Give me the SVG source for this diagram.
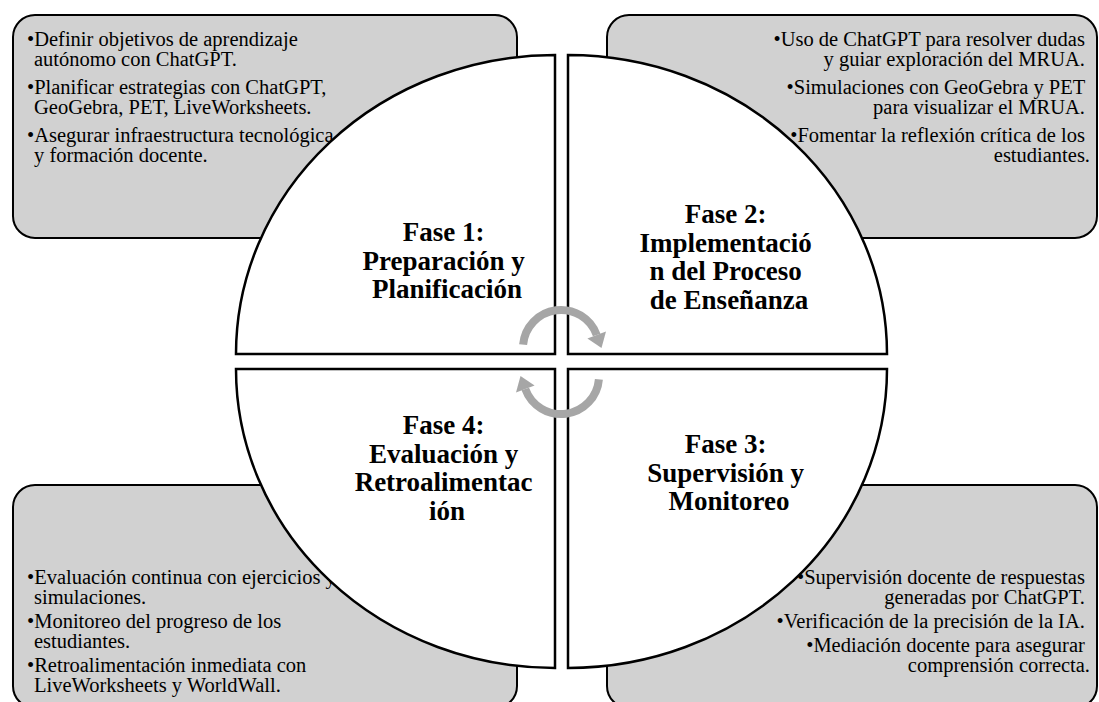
<svg xmlns="http://www.w3.org/2000/svg" width="1099" height="702" viewBox="0 0 1099 702">
  <style>
    .box { fill: #d1d1d1; stroke: #000; stroke-width: 2; }
    .quad { fill: #fff; stroke: #000; stroke-width: 2.5; stroke-linejoin: miter; }
    .body { font-family: "Liberation Serif", "Times New Roman", serif; font-size: 20.5px; fill: #000; }
    .end { text-anchor: end; }
    .phase { font-family: "Liberation Serif", "Times New Roman", serif; font-size: 27px; font-weight: bold; fill: #000; text-anchor: middle; }
    .arc { fill: none; stroke: #a6a6a6; stroke-width: 8; }
    .head { fill: #a6a6a6; }
  </style>
  <rect width="1099" height="702" fill="#fff"/>

  <g id="box1">
    <rect class="box" x="13" y="15" width="504" height="223" rx="22"/>
    <text class="body">
      <tspan x="27" y="46">•Definir objetivos de aprendizaje</tspan>
      <tspan x="34" y="66">autónomo con ChatGPT.</tspan>
      <tspan x="27" y="94">•Planificar estrategias con ChatGPT,</tspan>
      <tspan x="34" y="114">GeoGebra, PET, LiveWorksheets.</tspan>
      <tspan x="27" y="142">•Asegurar infraestructura tecnológica</tspan>
      <tspan x="34" y="162">y formación docente.</tspan>
    </text>
  </g>

  <g id="box2">
    <rect class="box" x="607" y="15" width="490" height="223" rx="22"/>
    <text class="body end">
      <tspan x="1090" y="46">•Uso de ChatGPT para resolver dudas</tspan>
      <tspan x="1090" y="66">y guiar exploración del MRUA.</tspan>
      <tspan x="1090" y="94">•Simulaciones con GeoGebra y PET</tspan>
      <tspan x="1090" y="114">para visualizar el MRUA.</tspan>
      <tspan x="1090" y="142">•Fomentar la reflexión crítica de los</tspan>
      <tspan x="1090" y="162">estudiantes.</tspan>
    </text>
  </g>

  <g id="box4">
    <rect class="box" x="13" y="485" width="504" height="223" rx="22"/>
    <text class="body">
      <tspan x="27" y="584">•Evaluación continua con ejercicios y</tspan>
      <tspan x="34" y="604">simulaciones.</tspan>
      <tspan x="27" y="628">•Monitoreo del progreso de los</tspan>
      <tspan x="34" y="648">estudiantes.</tspan>
      <tspan x="27" y="672">•Retroalimentación inmediata con</tspan>
      <tspan x="34" y="692">LiveWorksheets y WorldWall.</tspan>
    </text>
  </g>

  <g id="box3">
    <rect class="box" x="607" y="485" width="490" height="223" rx="22"/>
    <text class="body end">
      <tspan x="1090" y="584">•Supervisión docente de respuestas</tspan>
      <tspan x="1090" y="604">generadas por ChatGPT.</tspan>
      <tspan x="1090" y="628">•Verificación de la precisión de la IA.</tspan>
      <tspan x="1090" y="652">•Mediación docente para asegurar</tspan>
      <tspan x="1090" y="672">comprensión correcta.</tspan>
    </text>
  </g>

  <g id="fase1">
    <path class="quad" d="M555,354 L236,354 A319,299 0 0 1 555,55 Z"/>
    <text class="phase">
      <tspan x="447" y="241">Fase 1:</tspan>
      <tspan x="447" y="269.5">Preparación y</tspan>
      <tspan x="447" y="298">Planificación</tspan>
    </text>
  </g>

  <g id="fase2">
    <path class="quad" d="M568,354 L568,55 A319,299 0 0 1 887,354 Z"/>
    <text class="phase">
      <tspan x="729" y="223">Fase 2:</tspan>
      <tspan x="729" y="251.5">Implementació</tspan>
      <tspan x="729" y="280">n del Proceso</tspan>
      <tspan x="729" y="308.5">de Enseñanza</tspan>
    </text>
  </g>

  <g id="fase3">
    <path class="quad" d="M568,369 L887,369 A319,299 0 0 1 568,668 Z"/>
    <text class="phase">
      <tspan x="729" y="453">Fase 3:</tspan>
      <tspan x="729" y="481.5">Supervisión y</tspan>
      <tspan x="729" y="510">Monitoreo</tspan>
    </text>
  </g>

  <g id="fase4">
    <path class="quad" d="M555,369 L555,668 A319,299 0 0 1 236,369 Z"/>
    <text class="phase">
      <tspan x="447" y="434">Fase 4:</tspan>
      <tspan x="447" y="462.5">Evaluación y</tspan>
      <tspan x="447" y="491">Retroalimentac</tspan>
      <tspan x="447" y="519.5">ión</tspan>
    </text>
  </g>

  <g id="connectors">
    <g id="arrow-top">
      <path class="arc" d="M523.1,344.7 A38,38 0 0 1 596.7,335"/>
      <polygon class="head" points="606,331.6 587.4,338.4 601.5,348"/>
    </g>
    <g id="arrow-bottom" transform="rotate(180 561 362)">
      <path class="arc" d="M523.1,344.7 A38,38 0 0 1 596.7,335"/>
      <polygon class="head" points="606,331.6 587.4,338.4 601.5,348"/>
    </g>
  </g>
</svg>
